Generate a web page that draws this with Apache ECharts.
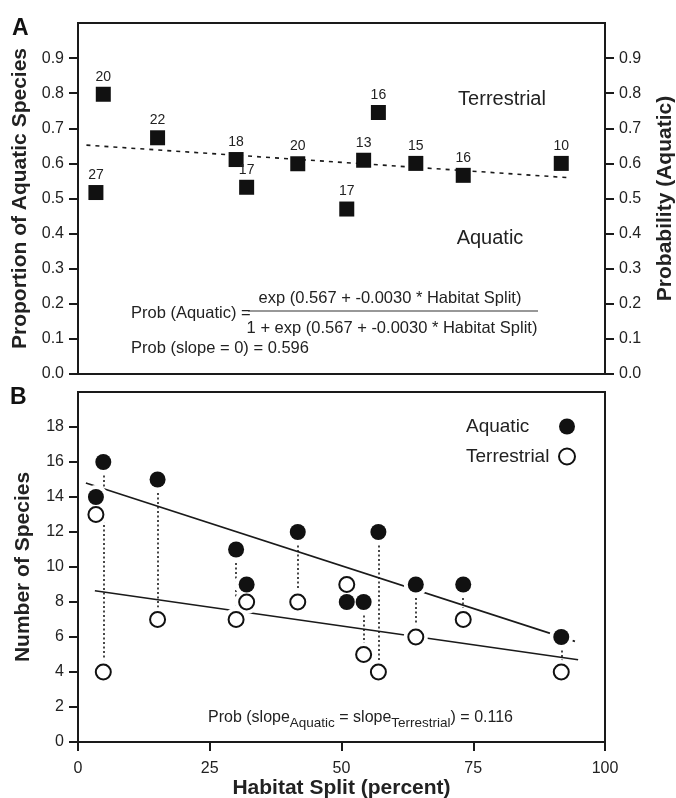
<!DOCTYPE html>
<html>
<head>
<meta charset="utf-8">
<script src="https://cdn.jsdelivr.net/npm/echarts@6/dist/echarts.min.js"></script>
<style>html,body{margin:0;padding:0;background:#fff}#c{width:676px;height:798px}</style>
</head>
<body>
<div id="c"></div>
<script>
// ---- data ----
const habitatSplit = [3.4, 4.8, 15.1, 30.0, 32.0, 41.7, 51.0, 54.2, 57.0, 64.1, 73.1, 91.7];
const proportionAquatic = [0.517, 0.797, 0.673, 0.611, 0.532, 0.599, 0.470, 0.609, 0.745, 0.600, 0.566, 0.600];
const totalSpecies = [27, 20, 22, 18, 17, 20, 17, 13, 16, 15, 16, 10];
const aquaticCount = [14, 16, 15, 11, 9, 12, 8, 8, 12, 9, 9, 6];
const terrestrialCount = [13, 4, 7, 7, 8, 8, 9, 5, 4, 6, 7, 4];
const probFitX = [1.6, 93.4];
const probFitY = [0.652, 0.559];
const aquaticFitX = [1.5, 94.3];
const aquaticFitY = [14.8, 5.75];
const terrestrialFitX = [3.2, 94.9];
const terrestrialFitY = [8.64, 4.70];
const probTicks = [0, 0.1, 0.2, 0.3, 0.4, 0.5, 0.6, 0.7, 0.8, 0.9];
const countTicks = [0, 2, 4, 6, 8, 10, 12, 14, 16, 18];
const splitTicks = [0, 25, 50, 75, 100];

const FONT = '"Liberation Sans", Arial, Helvetica, sans-serif';
const INK = '#1a1a1a';
const TXT = '#222';

const zip = (xs, ys) => xs.map((x, i) => [x, ys[i]]);

const chart = echarts.init(document.getElementById('c'), null, {renderer: 'canvas'});

const axisBase = {
  axisLine: {show: true, lineStyle: {color: INK, width: 2}},
  splitLine: {show: false},
  axisLabel: {color: TXT, fontSize: 16, fontFamily: FONT},
  nameTextStyle: {color: TXT, fontSize: 21, fontWeight: 'bold', fontFamily: FONT}
};

const option = {
  animation: false,
  backgroundColor: '#fff',
  textStyle: {fontFamily: FONT},
  grid: [
    {left: 78, right: 71, top: 23, bottom: 424, show: true, borderColor: INK, borderWidth: 2, containLabel: false, outerBoundsMode: 'none'},
    {left: 78, right: 71, top: 392, bottom: 56, show: true, borderColor: INK, borderWidth: 2, containLabel: false, outerBoundsMode: 'none'}
  ],
  xAxis: [
    Object.assign({}, axisBase, {
      gridIndex: 0, type: 'value', min: 0, max: 100, interval: 25,
      axisTick: {show: false}, axisLabel: {show: false}
    }),
    Object.assign({}, axisBase, {
      gridIndex: 1, type: 'value', min: 0, max: 100, interval: 25,
      name: 'Habitat Split (percent)', nameLocation: 'middle', nameGap: 35,
      axisTick: {show: true, inside: false, length: 9, lineStyle: {color: INK, width: 2}, customValues: splitTicks},
      axisLabel: {color: TXT, fontSize: 16, fontFamily: FONT, margin: 19, customValues: splitTicks}
    })
  ],
  yAxis: [
    Object.assign({}, axisBase, {
      gridIndex: 0, type: 'value', position: 'left', min: 0, max: 1, interval: 0.1,
      name: 'Proportion of Aquatic Species', nameLocation: 'middle', nameGap: 44, nameRotate: 90,
      axisTick: {show: true, inside: false, length: 9, lineStyle: {color: INK, width: 2}, customValues: probTicks},
      axisLabel: {color: TXT, fontSize: 16, fontFamily: FONT, margin: 14, customValues: probTicks, formatter: v => v.toFixed(1)}
    }),
    Object.assign({}, axisBase, {
      gridIndex: 0, type: 'value', position: 'right', min: 0, max: 1, interval: 0.1,
      name: 'Probability (Aquatic)', nameLocation: 'middle', nameGap: 50, nameRotate: 90,
      axisTick: {show: true, inside: false, length: 9, lineStyle: {color: INK, width: 2}, customValues: probTicks},
      axisLabel: {color: TXT, fontSize: 16, fontFamily: FONT, margin: 14, customValues: probTicks, formatter: v => v.toFixed(1)}
    }),
    Object.assign({}, axisBase, {
      gridIndex: 1, type: 'value', position: 'left', min: 0, max: 20, interval: 2,
      name: 'Number of Species', nameLocation: 'middle', nameGap: 44, nameRotate: 90,
      axisTick: {show: true, inside: false, length: 9, lineStyle: {color: INK, width: 2}, customValues: countTicks},
      axisLabel: {color: TXT, fontSize: 16, fontFamily: FONT, margin: 14, customValues: countTicks}
    })
  ],
  legend: {
    data: ['Aquatic', 'Terrestrial'],
    orient: 'vertical', align: 'right', left: 466, top: 417,
    itemWidth: 16, itemHeight: 16, itemGap: 11, padding: 0,
    formatter: '{t|{name}}',
    textStyle: {color: TXT, fontSize: 19, fontFamily: FONT, rich: {t: {width: 88, align: 'left', fontSize: 19, lineHeight: 16, fontFamily: FONT, color: TXT}}},
    selectedMode: false
  },
  series: [
    {
      type: 'line', xAxisIndex: 0, yAxisIndex: 0, data: zip(probFitX, probFitY),
      symbol: 'none', silent: true, z: 2,
      lineStyle: {color: INK, width: 1.6, type: [4, 5]}
    },
    {
      type: 'scatter', xAxisIndex: 0, yAxisIndex: 0, data: zip(habitatSplit, proportionAquatic),
      symbol: 'rect', symbolSize: 15, z: 4,
      itemStyle: {color: '#111', opacity: 1},
      label: {show: true, position: 'top', distance: 3, fontSize: 14, color: TXT, fontFamily: FONT,
        formatter: p => String(totalSpecies[p.dataIndex])}
    },
    {
      type: 'lines', coordinateSystem: 'cartesian2d', xAxisIndex: 1, yAxisIndex: 2, z: 2, silent: true,
      data: habitatSplit.map((x, i) => ({coords: [[x, aquaticCount[i]], [x, terrestrialCount[i]]]})),
      lineStyle: {color: INK, width: 1.6, type: [2, 2.5], opacity: 1}
    },
    {
      type: 'line', xAxisIndex: 1, yAxisIndex: 2, data: zip(aquaticFitX, aquaticFitY),
      symbol: 'none', silent: true, z: 2, lineStyle: {color: INK, width: 1.6}
    },
    {
      type: 'line', xAxisIndex: 1, yAxisIndex: 2, data: zip(terrestrialFitX, terrestrialFitY),
      symbol: 'none', silent: true, z: 2, lineStyle: {color: INK, width: 1.6}
    },
    {
      type: 'scatter', xAxisIndex: 1, yAxisIndex: 2, silent: true, z: 3,
      data: zip(habitatSplit, aquaticCount).concat(zip(habitatSplit, terrestrialCount)),
      symbol: 'circle', symbolSize: 24, itemStyle: {color: '#fff', opacity: 1}
    },
    {
      name: 'Aquatic', type: 'scatter', xAxisIndex: 1, yAxisIndex: 2, z: 5,
      data: zip(habitatSplit, aquaticCount),
      symbol: 'circle', symbolSize: 16, itemStyle: {color: '#111', opacity: 1}
    },
    {
      name: 'Terrestrial', type: 'scatter', xAxisIndex: 1, yAxisIndex: 2, z: 5,
      data: zip(habitatSplit, terrestrialCount),
      symbol: 'circle', symbolSize: 15, itemStyle: {color: '#fff', borderColor: '#111', borderWidth: 2, opacity: 1}
    }
  ],
  graphic: [
    {type: 'text', left: 12, top: 17, style: {text: 'A', font: 'bold 23px ' + FONT, fill: '#111'}},
    {type: 'text', left: 10, top: 386, style: {text: 'B', font: 'bold 23px ' + FONT, fill: '#111'}},
    {type: 'text', x: 502, y: 99, style: {text: 'Terrestrial', font: '20px ' + FONT, fill: TXT, align: 'center', verticalAlign: 'middle'}},
    {type: 'text', x: 490, y: 238, style: {text: 'Aquatic', font: '20px ' + FONT, fill: TXT, align: 'center', verticalAlign: 'middle'}},
    {type: 'text', x: 131, y: 313, style: {text: 'Prob (Aquatic) =', font: '16.5px ' + FONT, fill: TXT, align: 'left', verticalAlign: 'middle'}},
    {type: 'text', x: 390, y: 298, style: {text: 'exp (0.567 + -0.0030 * Habitat Split)', font: '16.5px ' + FONT, fill: TXT, align: 'center', verticalAlign: 'middle'}},
    {type: 'line', shape: {x1: 248, y1: 311, x2: 538, y2: 311}, style: {stroke: '#333', lineWidth: 1.2}},
    {type: 'text', x: 392, y: 328, style: {text: '1 + exp (0.567 + -0.0030 * Habitat Split)', font: '16.5px ' + FONT, fill: TXT, align: 'center', verticalAlign: 'middle'}},
    {type: 'text', x: 131, y: 348, style: {text: 'Prob (slope = 0) = 0.596', font: '16.5px ' + FONT, fill: TXT, align: 'left', verticalAlign: 'middle'}},
    {type: 'text', left: 208, top: 710, style: {
      text: '{m|Prob (slope}{s|Aquatic}{m| = slope}{s|Terrestrial}{m|) = 0.116}',
      rich: {
        m: {fontSize: 16, fontFamily: FONT, fill: TXT, verticalAlign: 'top', lineHeight: 18},
        s: {fontSize: 13.5, fontFamily: FONT, fill: TXT, verticalAlign: 'top', lineHeight: 18, padding: [6, 0, 0, 0]}
      }
    }}
  ]
};

chart.setOption(option);
</script>
</body>
</html>
